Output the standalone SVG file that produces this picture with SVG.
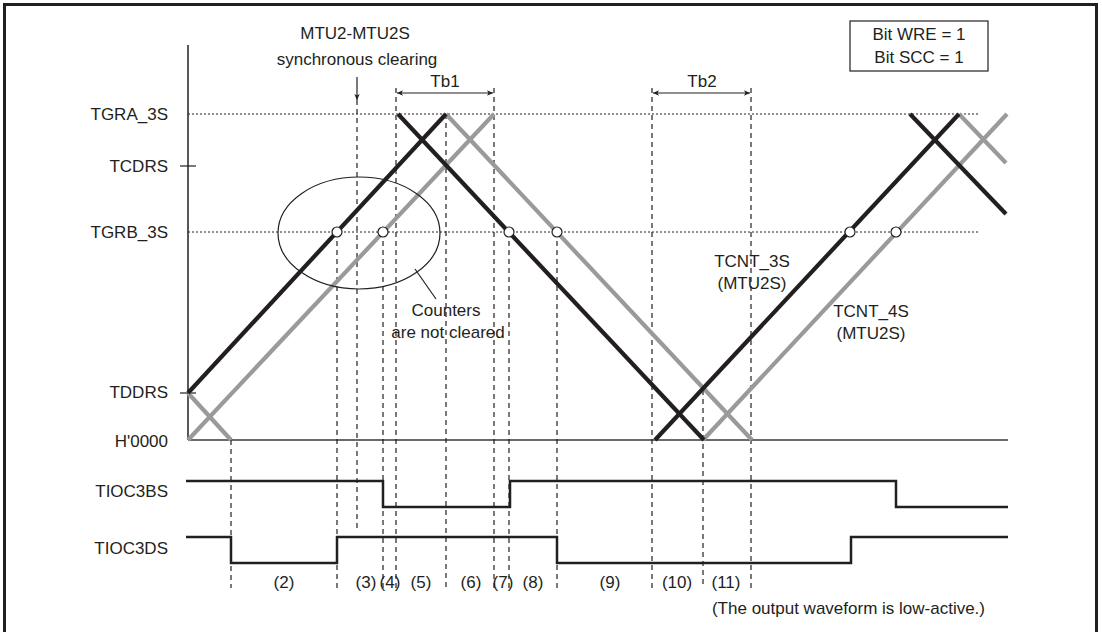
<svg xmlns="http://www.w3.org/2000/svg" width="1102" height="632" viewBox="0 0 1102 632">
<defs>
<marker id="ah" viewBox="0 0 10 10" refX="10" refY="5" markerWidth="9" markerHeight="6" markerUnits="userSpaceOnUse" orient="auto-start-reverse"><path d="M0,0.5 L10,5 L0,9.5 L2.5,5 z" fill="#231f20"/></marker>
</defs>
<style>
text{font-family:"Liberation Sans",Arial,Helvetica,sans-serif;font-size:17px;fill:#231f20}
.lbl{text-anchor:end}
.mid{text-anchor:middle}
.dot{stroke:#231f20;stroke-width:1;stroke-dasharray:2 2;fill:none}
.dash{stroke:#231f20;stroke-width:1.2;stroke-dasharray:5 4;fill:none}
.blk{stroke:#231f20;stroke-width:4.2;fill:none}
.gry{stroke:#9a9a9a;stroke-width:4.2;fill:none}
.wave{stroke:#231f20;stroke-width:2.5;fill:none}
.thin{stroke:#231f20;stroke-width:1.2;fill:none}
.pt{fill:#fff;stroke:#231f20;stroke-width:1.2}
</style>
<rect width="1102" height="632" fill="#fff"/>
<rect x="4.5" y="4.5" width="1092" height="640" fill="none" stroke="#231f20" stroke-width="3"/>

<g id="axis">
<line x1="188" y1="45" x2="188" y2="440" stroke="#231f20" stroke-width="1.5"/>
<line x1="180" y1="166" x2="196" y2="166" stroke="#231f20" stroke-width="1.2"/>
<line x1="180" y1="393" x2="196" y2="393" stroke="#231f20" stroke-width="1.2"/>
<line x1="188" y1="440" x2="1008" y2="440" stroke="#6a6a6a" stroke-width="2"/>
<line class="dot" x1="188" y1="114" x2="978" y2="114"/>
<line class="dot" x1="188" y1="232" x2="978" y2="232"/>
</g>

<g id="axis-labels">
<text class="lbl" x="168" y="120">TGRA_3S</text>
<text class="lbl" x="168" y="172">TCDRS</text>
<text class="lbl" x="168" y="238">TGRB_3S</text>
<text class="lbl" x="168" y="398">TDDRS</text>
<text class="lbl" x="168" y="447">H'0000</text>
<text class="lbl" x="168" y="497">TIOC3BS</text>
<text class="lbl" x="168" y="554">TIOC3DS</text>
</g>

<g id="connectors">
<line class="dash" x1="231" y1="440" x2="231" y2="588"/>
<line class="dash" x1="337" y1="232" x2="337" y2="588"/>
<line class="dash" x1="357" y1="100" x2="357" y2="532"/>
<line class="dash" x1="383" y1="232" x2="383" y2="588"/>
<line class="dash" x1="396" y1="88" x2="396" y2="588"/>
<line class="dash" x1="446" y1="114" x2="446" y2="588"/>
<line class="dash" x1="494" y1="88" x2="494" y2="588"/>
<line class="dash" x1="509" y1="232" x2="509" y2="588"/>
<line class="dash" x1="557" y1="232" x2="557" y2="588"/>
<line class="dash" x1="652" y1="88" x2="652" y2="588"/>
<line class="dash" x1="703" y1="390" x2="703" y2="588"/>
<line class="dash" x1="751" y1="88" x2="751" y2="588"/>
<line class="thin" x1="357" y1="77" x2="357" y2="100" marker-end="url(#ah)"/>
<line class="thin" x1="397" y1="93" x2="493" y2="93" marker-start="url(#ah)" marker-end="url(#ah)"/>
<line class="thin" x1="653" y1="93" x2="750" y2="93" marker-start="url(#ah)" marker-end="url(#ah)"/>
<line class="thin" x1="415" y1="269" x2="436" y2="299"/>
</g>

<g id="tcnt4s">
<line class="gry" x1="188" y1="393" x2="231" y2="440"/>
<line class="gry" x1="188" y1="440" x2="494" y2="114"/>
<line class="gry" x1="446" y1="114" x2="752" y2="440"/>
<line class="gry" x1="703" y1="440" x2="1007" y2="114"/>
<line class="gry" x1="959" y1="114" x2="1006" y2="163"/>
</g>

<g id="tcnt3s">
<line class="blk" x1="188" y1="393" x2="446" y2="114"/>
<line class="blk" x1="398" y1="114" x2="704" y2="440"/>
<line class="blk" x1="655" y1="440" x2="959" y2="114"/>
<line class="blk" x1="910" y1="114" x2="1006" y2="214"/>
</g>

<g id="points">
<circle class="pt" cx="337" cy="232" r="5"/>
<circle class="pt" cx="383" cy="232" r="5"/>
<circle class="pt" cx="509" cy="232" r="5"/>
<circle class="pt" cx="557" cy="232" r="5"/>
<circle class="pt" cx="850" cy="232" r="5"/>
<circle class="pt" cx="896" cy="232" r="5"/>
</g>

<g id="ellipse">
<ellipse cx="359" cy="233" rx="81" ry="56" fill="none" stroke="#231f20" stroke-width="1.2"/>
</g>

<g id="waveforms">
<path class="wave" d="M186,481 H383 V507 H510 V481 H896 V507 H1008"/>
<path class="wave" d="M186,537 H231 V563 H337 V537 H557 V563 H851 V537 H1008"/>
</g>

<g id="annotations">
<text class="mid" x="355" y="39">MTU2-MTU2S</text>
<text class="mid" x="357" y="65">synchronous clearing</text>
<text class="mid" x="445" y="87">Tb1</text>
<text class="mid" x="702" y="87">Tb2</text>
<text class="mid" x="446" y="316">Counters</text>
<text class="mid" x="448" y="338">are not cleared</text>
<text class="mid" x="752" y="267">TCNT_3S</text>
<text class="mid" x="752" y="289">(MTU2S)</text>
<text class="mid" x="871" y="317">TCNT_4S</text>
<text class="mid" x="871" y="339">(MTU2S)</text>
</g>

<g id="mode-box">
<rect x="850" y="21" width="138" height="50" fill="#fff" stroke="#231f20" stroke-width="1.2"/>
<text class="mid" x="919" y="40">Bit WRE = 1</text>
<text class="mid" x="919" y="63">Bit SCC = 1</text>
</g>

<g id="intervals">
<text class="mid" x="284" y="588">(2)</text>
<text class="mid" x="366" y="588">(3)</text>
<text class="mid" x="390" y="588">(4)</text>
<text class="mid" x="421" y="588">(5)</text>
<text class="mid" x="471" y="588">(6)</text>
<text class="mid" x="503" y="588">(7)</text>
<text class="mid" x="533" y="588">(8)</text>
<text class="mid" x="610" y="588">(9)</text>
<text class="mid" x="677" y="588">(10)</text>
<text class="mid" x="726" y="588">(11)</text>
<text class="lbl" x="985" y="614">(The output waveform is low-active.)</text>
</g>
</svg>
